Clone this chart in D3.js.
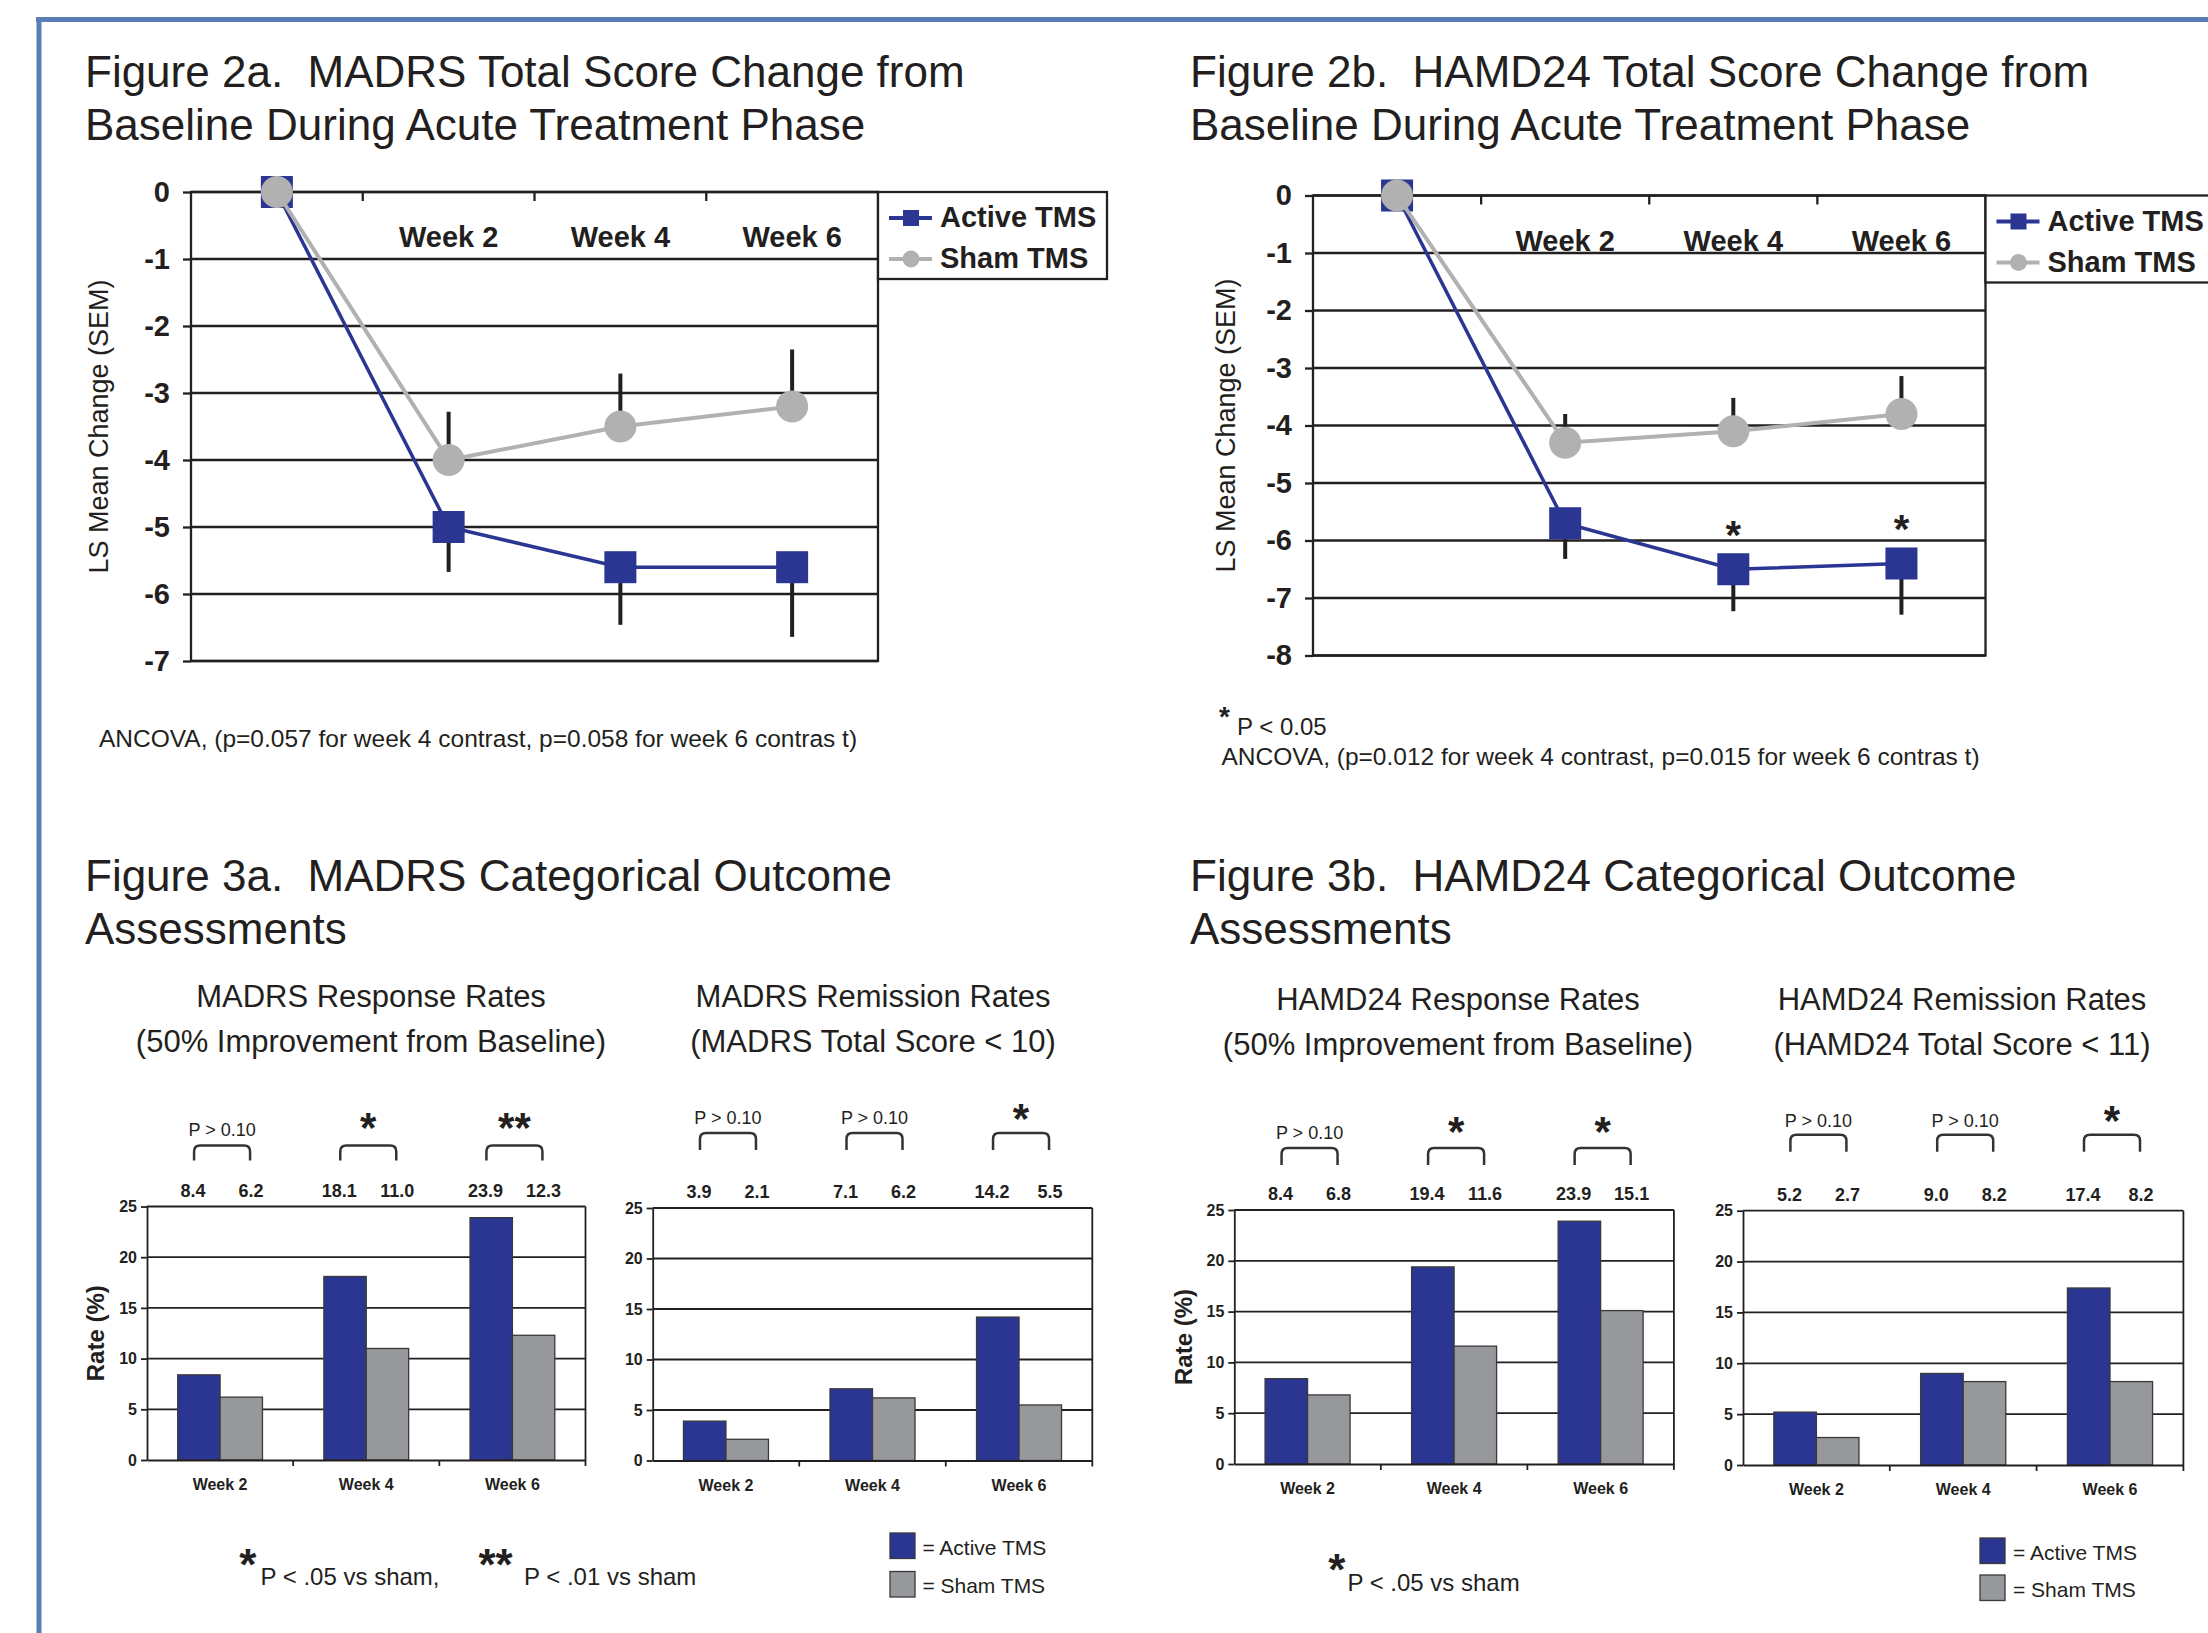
<!DOCTYPE html>
<html>
<head>
<meta charset="utf-8">
<script src="https://cdn.jsdelivr.net/npm/d3@7"></script>
<style>
  body { margin: 0; background: #fff; }
  svg { display: block; font-family: "Liberation Sans", Arial, sans-serif; }
  text { white-space: pre; }
</style>
</head>
<body>
<div id="chart"></div>
<script>
// ---- line chart data (LS mean change from baseline, SEM) ----
var lineWeeks = ["Baseline", "Week 2", "Week 4", "Week 6"];
var lineWeekLabels = ["", "Week 2", "Week 4", "Week 6"];

var madrsActive = [0, -5.0, -5.6, -5.6];
var madrsActiveSem = [0, 0.67, 0.86, 1.04];
var madrsSham = [0, -4.0, -3.5, -3.2];
var madrsShamSem = [0, 0.72, 0.79, 0.85];
var madrsStars = ["", "", "", ""];

var hamdActive = [0, -5.7, -6.5, -6.4];
var hamdActiveSem = [0, 0.62, 0.73, 0.89];
var hamdSham = [0, -4.3, -4.1, -3.8];
var hamdShamSem = [0, 0.5, 0.58, 0.66];
var hamdStars = ["", "", "*", "*"];

// ---- bar chart data (rates, %) ----
var barWeeks = ["Week 2", "Week 4", "Week 6"];
var rateTicks = [0, 5, 10, 15, 20, 25];

var madrsRespActive = [8.4, 18.1, 23.9];
var madrsRespSham = [6.2, 11.0, 12.3];
var madrsRespSig = ["P > 0.10", "*", "**"];

var madrsRemActive = [3.9, 7.1, 14.2];
var madrsRemSham = [2.1, 6.2, 5.5];
var madrsRemSig = ["P > 0.10", "P > 0.10", "*"];

var hamdRespActive = [8.4, 19.4, 23.9];
var hamdRespSham = [6.8, 11.6, 15.1];
var hamdRespSig = ["P > 0.10", "*", "*"];

var hamdRemActive = [5.2, 9.0, 17.4];
var hamdRemSham = [2.7, 8.2, 8.2];
var hamdRemSig = ["P > 0.10", "P > 0.10", "*"];

// colours
var activeColor = "#2b3692";
var shamLineColor = "#b1b1b1";
var shamBarColor = "#97989b";
var ink = "#231f20";

var svg = d3.select("#chart").append("svg")
  .attr("width", 2208)
  .attr("height", 1633);

// page frame
svg.append("line").attr("x1", 36).attr("x2", 2208).attr("y1", 19.5).attr("y2", 19.5)
  .attr("stroke", "#5a7db5").attr("stroke-width", 5);
svg.append("line").attr("x1", 39).attr("x2", 39).attr("y1", 17).attr("y2", 1633)
  .attr("stroke", "#5a7db5").attr("stroke-width", 5);

function addText(g, x, y, str, size, opts) {
  opts = opts || {};
  return g.append("text")
    .attr("x", x).attr("y", y)
    .attr("font-size", size)
    .attr("font-weight", opts.bold ? "bold" : "normal")
    .attr("text-anchor", opts.anchor || "start")
    .attr("fill", opts.fill || ink)
    .text(str);
}

// star glyph centred on (x, cy)
function addStar(g, x, cy, str, size) {
  return addText(g, x, cy + size * 0.57, str, size, {bold: true, anchor: "middle"});
}

// plain hyphen minus like the original
var intFormat = d => d === 0 ? "0" : "-" + Math.abs(d);

// titles
[[85, "Figure 2a.  MADRS Total Score Change from", "Baseline During Acute Treatment Phase", 87, 140],
 [1190, "Figure 2b.  HAMD24 Total Score Change from", "Baseline During Acute Treatment Phase", 87, 140],
 [85, "Figure 3a.  MADRS Categorical Outcome", "Assessments", 891, 944],
 [1190, "Figure 3b.  HAMD24 Categorical Outcome", "Assessments", 891, 944]
].forEach(function(t) {
  addText(svg, t[0], t[3], t[1], 44);
  addText(svg, t[0], t[4], t[2], 44);
});

// ---------- line panels ----------
function drawLinePanel(p) {
  var g = svg.append("g");
  var x = d3.scaleBand().domain(lineWeeks).range([p.left, p.right]);
  var y = d3.scaleLinear().domain([0, p.yMin]).range([p.top, p.bottom]);
  var cx = function(i) { return x(lineWeeks[i]) + x.bandwidth() / 2; };
  var ticks = d3.range(0, p.yMin - 1, -1);

  // gridlines
  g.selectAll(".grid").data(ticks).enter().append("line")
    .attr("x1", p.left).attr("x2", p.right)
    .attr("y1", d => y(d)).attr("y2", d => y(d))
    .attr("stroke", ink).attr("stroke-width", 2.3);

  // frame
  g.append("rect").attr("x", p.left).attr("y", p.top)
    .attr("width", p.right - p.left).attr("height", p.bottom - p.top)
    .attr("fill", "none").attr("stroke", ink).attr("stroke-width", 2.3);

  // left axis
  var leftAxis = d3.axisLeft(y).tickValues(ticks).tickFormat(intFormat)
    .tickSize(8).tickSizeOuter(0).tickPadding(13);
  var ax = g.append("g").attr("transform", `translate(${p.left},0)`).call(leftAxis);
  ax.select(".domain").remove();
  ax.selectAll("line").attr("stroke", ink).attr("stroke-width", 2.3);
  ax.selectAll("text").attr("font-size", 29).attr("font-weight", "bold")
    .attr("fill", ink).attr("font-family", "Liberation Sans, Arial, sans-serif");

  // category boundary ticks on the zero line
  g.selectAll(".ctick").data(lineWeeks.slice(1)).enter().append("line")
    .attr("x1", d => x(d)).attr("x2", d => x(d))
    .attr("y1", p.top).attr("y2", p.top + 9)
    .attr("stroke", ink).attr("stroke-width", 2.3);

  // category labels
  g.selectAll(".clabel").data(lineWeekLabels).enter().append("text")
    .attr("x", (d, i) => cx(i)).attr("y", p.top + 55)
    .attr("text-anchor", "middle").attr("font-size", 29).attr("font-weight", "bold")
    .attr("fill", ink).text(d => d);

  // error bars: active downward, sham upward
  var errs = [];
  p.active.forEach(function(v, i) { if (p.activeSem[i] > 0) errs.push([i, v, v - p.activeSem[i]]); });
  p.sham.forEach(function(v, i) { if (p.shamSem[i] > 0) errs.push([i, v, v + p.shamSem[i]]); });
  g.selectAll(".err").data(errs).enter().append("line")
    .attr("x1", d => cx(d[0])).attr("x2", d => cx(d[0]))
    .attr("y1", d => y(d[1])).attr("y2", d => y(d[2]))
    .attr("stroke", ink).attr("stroke-width", 4);

  var line = d3.line().x((d, i) => cx(i)).y(d => y(d));

  // active series
  g.append("path").datum(p.active).attr("d", line)
    .attr("fill", "none").attr("stroke", activeColor).attr("stroke-width", 3.5);
  g.selectAll(".sq").data(p.active).enter().append("rect")
    .attr("x", (d, i) => cx(i) - 16).attr("y", d => y(d) - 16)
    .attr("width", 32).attr("height", 32).attr("fill", activeColor);

  // sham series
  g.append("path").datum(p.sham).attr("d", line)
    .attr("fill", "none").attr("stroke", shamLineColor).attr("stroke-width", 4);
  g.selectAll(".dot").data(p.sham).enter().append("circle")
    .attr("cx", (d, i) => cx(i)).attr("cy", d => y(d)).attr("r", 16)
    .attr("fill", shamLineColor);

  // significance stars above active markers
  p.stars.forEach(function(s, i) {
    if (s) addStar(g, cx(i), y(p.active[i]) - 43, s, 40);
  });

  // y label
  g.append("text")
    .attr("transform", `translate(${p.yLabelX},${(p.top + p.bottom) / 2}) rotate(-90)`)
    .attr("text-anchor", "middle").attr("dy", "0.35em")
    .attr("font-size", 27).attr("fill", ink)
    .text("LS Mean Change (SEM)");

  // legend
  var lg = g.append("g").attr("transform", `translate(${p.right},${p.top})`);
  lg.append("rect").attr("width", 229).attr("height", 87)
    .attr("fill", "#fff").attr("stroke", ink).attr("stroke-width", 2.3);
  lg.append("line").attr("x1", 11).attr("x2", 54).attr("y1", 26).attr("y2", 26)
    .attr("stroke", activeColor).attr("stroke-width", 4);
  lg.append("rect").attr("x", 25).attr("y", 18).attr("width", 16).attr("height", 16)
    .attr("fill", activeColor);
  lg.append("line").attr("x1", 11).attr("x2", 54).attr("y1", 67).attr("y2", 67)
    .attr("stroke", shamLineColor).attr("stroke-width", 4);
  lg.append("circle").attr("cx", 33).attr("cy", 67).attr("r", 8.5).attr("fill", shamLineColor);
  addText(lg, 62, 35, "Active TMS", 29, {bold: true});
  addText(lg, 62, 76, "Sham TMS", 29, {bold: true});
}

drawLinePanel({
  left: 191, right: 878, top: 192, bottom: 661, yMin: -7,
  active: madrsActive, activeSem: madrsActiveSem,
  sham: madrsSham, shamSem: madrsShamSem, stars: madrsStars, yLabelX: 99
});
drawLinePanel({
  left: 1313, right: 1985.5, top: 195.5, bottom: 655.5, yMin: -8,
  active: hamdActive, activeSem: hamdActiveSem,
  sham: hamdSham, shamSem: hamdShamSem, stars: hamdStars, yLabelX: 1226
});

addText(svg, 99, 747, "ANCOVA, (p=0.057 for week 4 contrast, p=0.058 for week 6 contras t)", 24.5);
addText(svg, 1219, 726, "*", 28, {bold: true});
addText(svg, 1237, 735, "P < 0.05", 24);
addText(svg, 1221.5, 765, "ANCOVA, (p=0.012 for week 4 contrast, p=0.015 for week 6 contras t)", 24.5);

// ---------- bar panels ----------
function bracketPath(x1, x2, yt, yb) {
  var r = 6;
  return `M${x1},${yb} L${x1},${yt + r} Q${x1},${yt} ${x1 + r},${yt} ` +
         `L${x2 - r},${yt} Q${x2},${yt} ${x2},${yt + r} L${x2},${yb}`;
}

function drawBarPanel(p) {
  var g = svg.append("g");
  var x = d3.scaleBand().domain(barWeeks).range([p.left, p.right]);
  var bw = x.bandwidth();
  var x1 = d3.scaleBand().domain(["active", "sham"]).range([bw / 2 - 0.29 * bw, bw / 2 + 0.29 * bw]);
  var y = d3.scaleLinear().domain([0, 25]).range([p.bottom, p.top]);

  // gridlines
  g.selectAll(".grid").data(rateTicks.slice(1)).enter().append("line")
    .attr("x1", p.left).attr("x2", p.right)
    .attr("y1", d => y(d)).attr("y2", d => y(d))
    .attr("stroke", ink).attr("stroke-width", 1.8);
  // right edge
  g.append("line").attr("x1", p.right).attr("x2", p.right)
    .attr("y1", p.top).attr("y2", p.bottom)
    .attr("stroke", ink).attr("stroke-width", 1.8);

  // bars
  var rows = barWeeks.map((w, i) => ({week: w, active: p.active[i], sham: p.sham[i]}));
  var grp = g.selectAll(".grp").data(rows).enter().append("g")
    .attr("transform", d => `translate(${x(d.week)},0)`);
  grp.selectAll("rect").data(d => [["active", d.active], ["sham", d.sham]]).enter().append("rect")
    .attr("x", d => x1(d[0])).attr("width", x1.bandwidth())
    .attr("y", d => y(d[1])).attr("height", d => y(0) - y(d[1]))
    .attr("fill", d => d[0] === "active" ? activeColor : shamBarColor)
    .attr("stroke", "#3a3a3c").attr("stroke-width", 1.3);

  // axes
  var leftAxis = d3.axisLeft(y).tickValues(rateTicks).tickSize(6).tickSizeOuter(0).tickPadding(4);
  var ax = g.append("g").attr("transform", `translate(${p.left},0)`).call(leftAxis);
  ax.select(".domain").attr("stroke", ink).attr("stroke-width", 1.8);
  ax.selectAll("line").attr("stroke", ink).attr("stroke-width", 1.8);
  ax.selectAll("text").attr("font-size", 16).attr("font-weight", "bold")
    .attr("fill", ink).attr("font-family", "Liberation Sans, Arial, sans-serif");

  var bottomAxis = d3.axisBottom(x).tickSize(0).tickPadding(19).tickSizeOuter(0);
  var bx = g.append("g").attr("transform", `translate(0,${p.bottom})`).call(bottomAxis);
  bx.select(".domain").attr("stroke", ink).attr("stroke-width", 2);
  bx.selectAll("text").attr("font-size", 16).attr("font-weight", "bold")
    .attr("fill", ink).attr("font-family", "Liberation Sans, Arial, sans-serif");
  // boundary ticks between weeks
  g.selectAll(".btick").data(barWeeks.slice(1).concat(["end"])).enter().append("line")
    .attr("x1", d => d === "end" ? p.right : x(d)).attr("x2", d => d === "end" ? p.right : x(d))
    .attr("y1", p.bottom).attr("y2", p.bottom + 6)
    .attr("stroke", ink).attr("stroke-width", 1.8);

  // values and significance brackets
  rows.forEach(function(r, i) {
    var c = x(r.week) + bw / 2;
    var la = c - 27, ls = c + 31;
    addText(g, la, p.top - 10, r.active.toFixed(1), 18, {bold: true, anchor: "middle"});
    addText(g, ls, p.top - 10, r.sham.toFixed(1), 18, {bold: true, anchor: "middle"});
    g.append("path").attr("d", bracketPath(la + 1, ls - 1, p.top - p.bTop, p.top - p.bBot))
      .attr("fill", "none").attr("stroke", "#333").attr("stroke-width", 2.5);
    var s = p.sig[i];
    if (s.charAt(0) === "*") {
      addStar(g, (la + ls) / 2, p.top - p.starOff, s, 42);
    } else {
      addText(g, (la + ls) / 2, p.top - p.labOff, s, 18, {anchor: "middle"});
    }
  });

  if (p.yLabel) {
    g.append("text")
      .attr("transform", `translate(${p.yLabelX},${(p.top + p.bottom) / 2}) rotate(-90)`)
      .attr("text-anchor", "middle").attr("dy", "0.35em")
      .attr("font-size", 24).attr("font-weight", "bold").attr("fill", ink)
      .text("Rate (%)");
  }

  addText(svg, p.subX, p.subY, p.sub1, 31, {anchor: "middle"});
  addText(svg, p.subX, p.subY + 45, p.sub2, 31, {anchor: "middle"});
}

drawBarPanel({
  left: 147, right: 585.5, top: 1206.5, bottom: 1460,
  active: madrsRespActive, sham: madrsRespSham, sig: madrsRespSig,
  bTop: 61, bBot: 46, labOff: 71, starOff: 88,
  yLabel: true, yLabelX: 95.6,
  subX: 371, subY: 1007, sub1: "MADRS Response Rates", sub2: "(50% Improvement from Baseline)"
});
drawBarPanel({
  left: 652.7, right: 1092.3, top: 1208, bottom: 1460.5,
  active: madrsRemActive, sham: madrsRemSham, sig: madrsRemSig,
  bTop: 75, bBot: 58, labOff: 84, starOff: 99,
  yLabel: false,
  subX: 873, subY: 1007, sub1: "MADRS Remission Rates", sub2: "(MADRS Total Score < 10)"
});
drawBarPanel({
  left: 1234.3, right: 1673.9, top: 1210, bottom: 1464,
  active: hamdRespActive, sham: hamdRespSham, sig: hamdRespSig,
  bTop: 62, bBot: 45, labOff: 71, starOff: 88,
  yLabel: true, yLabelX: 1183.4,
  subX: 1458, subY: 1010, sub1: "HAMD24 Response Rates", sub2: "(50% Improvement from Baseline)"
});
drawBarPanel({
  left: 1743, right: 2183.4, top: 1210.7, bottom: 1465,
  active: hamdRemActive, sham: hamdRemSham, sig: hamdRemSig,
  bTop: 76, bBot: 59, labOff: 84, starOff: 100,
  yLabel: false,
  subX: 1962, subY: 1010, sub1: "HAMD24 Remission Rates", sub2: "(HAMD24 Total Score < 11)"
});

// bar legends
function barLegend(x0, y0, y1, tx, b0, b1) {
  svg.append("rect").attr("x", x0).attr("y", y0).attr("width", 25).attr("height", 25.5)
    .attr("fill", activeColor).attr("stroke", "#3a3a3c").attr("stroke-width", 1.3);
  svg.append("rect").attr("x", x0).attr("y", y1).attr("width", 25).attr("height", 25.5)
    .attr("fill", shamBarColor).attr("stroke", "#3a3a3c").attr("stroke-width", 1.3);
  addText(svg, tx, b0, "= Active TMS", 21);
  addText(svg, tx, b1, "= Sham TMS", 21);
}
barLegend(890, 1533, 1571.5, 922.4, 1554.5, 1592.7);
barLegend(1980, 1538, 1575, 2013, 1560, 1597);

// footnotes
addStar(svg, 247.8, 1554.5, "*", 44);
addText(svg, 260.5, 1585, "P < .05 vs sham,", 24);
addStar(svg, 495.5, 1554.5, "**", 44);
addText(svg, 524, 1585, "P < .01 vs sham", 24);
addStar(svg, 1336.7, 1559.8, "*", 44);
addText(svg, 1347.4, 1590.6, "P < .05 vs sham", 24);
</script>
</body>
</html>
